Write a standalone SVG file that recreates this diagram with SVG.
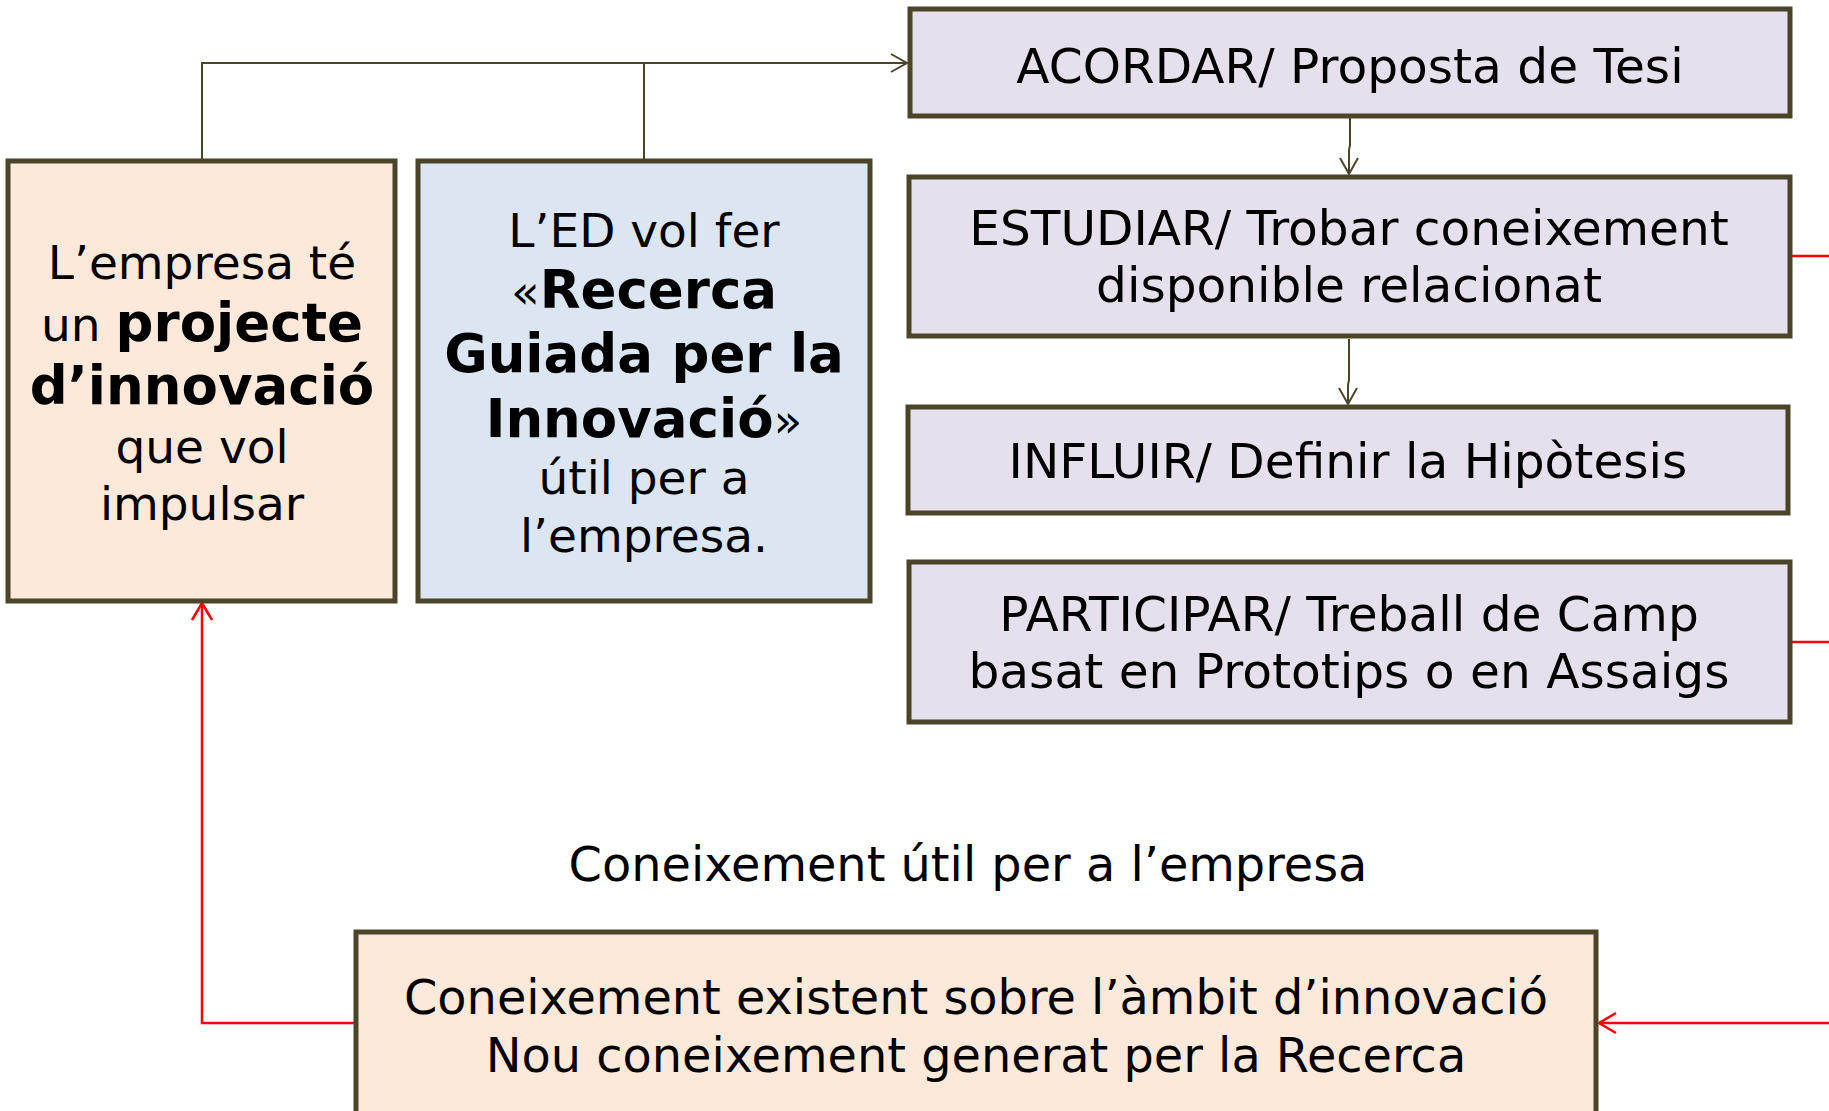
<svg xmlns="http://www.w3.org/2000/svg" width="1829" height="1111" viewBox="0 0 1829 1111">
<defs>
<style>
.box{stroke:#4a4429;stroke-width:5}
.peach{fill:#fde9d9}
.blue{fill:#dce6f2}
.lav{fill:#e5e0ec}
text{font-family:"DejaVu Sans","Liberation Sans",sans-serif;fill:#000;text-anchor:middle}
.t48{font-size:48.6px}
.t48b{font-size:47.8px}
.t47{font-size:47px}
.b{font-weight:bold;font-size:53px}
.dk{stroke:#4a4429;stroke-width:2;fill:none}
.rd{stroke:#ff0000;stroke-width:2.5;fill:none}
</style>
<marker id="ad" viewBox="-20 -12 22 24" refX="0" refY="0" markerWidth="22" markerHeight="24" markerUnits="userSpaceOnUse" orient="auto">
<path d="M-16,-9 L0,0 L-16,9" fill="none" stroke="#4a4429" stroke-width="2"/>
</marker>
<marker id="ar" viewBox="-20 -12 22 24" refX="0" refY="0" markerWidth="22" markerHeight="24" markerUnits="userSpaceOnUse" orient="auto">
<path d="M-17,-10 L0,0 L-17,10" fill="none" stroke="#ff0000" stroke-width="2.5"/>
</marker>
</defs>
<rect width="1829" height="1111" fill="#ffffff"/>
<g id="connectors">
<path class="dk" d="M202,159 V63 H907" marker-end="url(#ad)"/>
<path class="dk" d="M644,159 V63"/>
<path class="dk" d="M1350,118 V145 L1349,150 V174" marker-end="url(#ad)"/>
<path class="dk" d="M1349,339 V380 L1348,385 V404" marker-end="url(#ad)"/>
<path class="rd" d="M1791,256 H1829"/>
<path class="rd" d="M1792,642 H1829"/>
<path class="rd" d="M1829,1023 H1599" marker-end="url(#ar)"/>
<path class="rd" d="M354,1023 H202 V603" marker-end="url(#ar)"/>
</g>
<g id="node-empresa">
<rect class="box peach" x="8" y="161" width="387" height="440"/>
<text class="t47" x="202" y="279">L’empresa té</text>
<text class="t47" x="202" y="341">un <tspan class="b">projecte</tspan></text>
<text class="b" x="202" y="404">d’innovació</text>
<text class="t47" x="202" y="463">que vol</text>
<text class="t47" x="202" y="520">impulsar</text>
</g>
<g id="node-ed">
<rect class="box blue" x="418" y="161" width="452" height="440"/>
<text class="t47" x="644" y="247">L’ED vol fer</text>
<text class="t47" x="644" y="308">«<tspan class="b">Recerca</tspan></text>
<text class="b" x="644" y="372">Guiada per la</text>
<text class="t47" x="644" y="437"><tspan class="b">Innovació</tspan>»</text>
<text class="t47" x="644" y="494">útil per a</text>
<text class="t47" x="644" y="552">l’empresa.</text>
</g>
<g id="node-acordar">
<rect class="box lav" x="910" y="9" width="880" height="107"/>
<text class="t48" x="1350" y="83">ACORDAR/ Proposta de Tesi</text>
</g>
<g id="node-estudiar">
<rect class="box lav" x="909" y="177" width="881" height="159"/>
<text class="t48" x="1349" y="245">ESTUDIAR/ Trobar coneixement</text>
<text class="t48" x="1349" y="302">disponible relacionat</text>
</g>
<g id="node-influir">
<rect class="box lav" x="908" y="407" width="880" height="106"/>
<text class="t48" x="1348" y="478">INFLUIR/ Definir la Hipòtesis</text>
</g>
<g id="node-participar">
<rect class="box lav" x="909" y="562" width="881" height="160"/>
<text class="t48" x="1349" y="631">PARTICIPAR/ Treball de Camp</text>
<text class="t48" x="1349" y="688">basat en Prototips o en Assaigs</text>
</g>
<g id="label-util">
<text class="t48b" x="968" y="881">Coneixement útil per a l’empresa</text>
</g>
<g id="node-coneixement">
<rect class="box peach" x="356" y="932" width="1240" height="200"/>
<text class="t48b" x="976" y="1014">Coneixement existent sobre l’àmbit d’innovació</text>
<text class="t48b" x="976" y="1072">Nou coneixement generat per la Recerca</text>
</g>
</svg>
